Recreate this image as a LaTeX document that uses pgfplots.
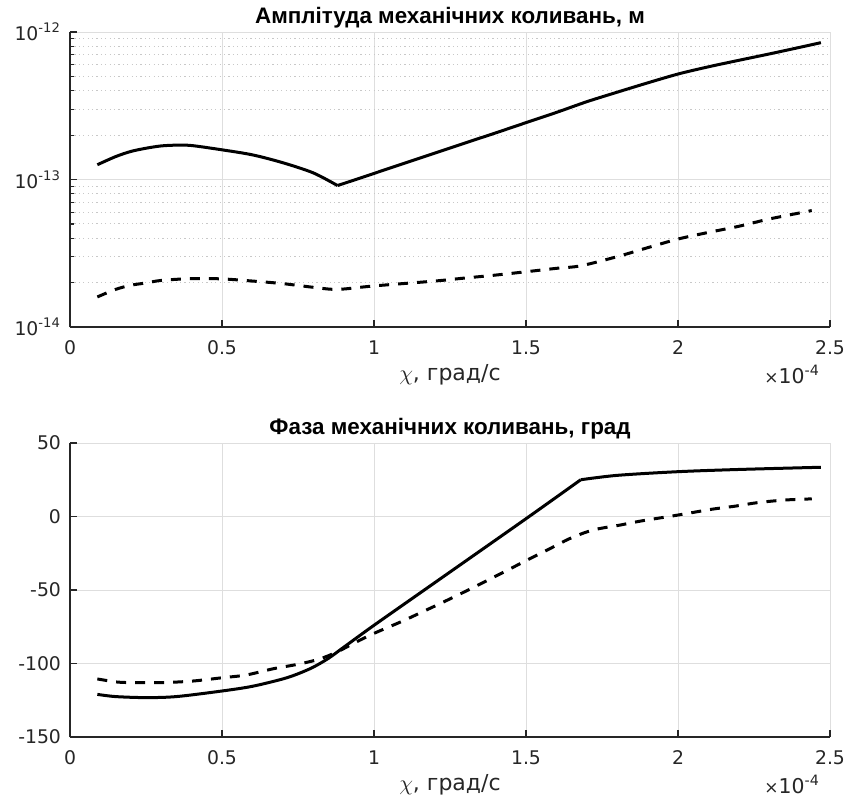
\documentclass[border=0pt]{standalone}
\usepackage{fontspec}
\usepackage{pgfplots}
\pgfplotsset{compat=1.18}
\setmainfont{DejaVu Sans}
\newfontfamily\titlefont{Liberation Sans}
\definecolor{axgray}{RGB}{38,38,38}
\definecolor{gridgray}{RGB}{222,222,222}
\definecolor{mgridgray}{RGB}{200,200,200}

\tikzset{scalelabel/.style={anchor=base east, font=\fontsize{10.2}{11}\selectfont, text=axgray}}

\pgfplotsset{
  matlabstyle/.style={
    scale only axis,
    width=380pt,
    xmin=0, xmax=2.5,
    xtick={0,0.5,1,1.5,2,2.5},
    enlargelimits=false,
    clip=false,
    axis x line*=bottom,
    axis y line*=left,
    axis line style={axgray, line width=0.6pt},
    tick align=inside,
    major tick length=3.5pt,
    minor tick length=2pt,
    tick style={axgray, line width=0.6pt},
    xmajorgrids, ymajorgrids,
    major grid style={gridgray, line width=0.5pt},
    /pgf/number format/assume math mode=true,
    tick label style={font=\fontsize{9.4}{11}\selectfont, text=axgray},
    xticklabel style={yshift=-3.2pt},
    yticklabel style={xshift=-1pt},
    xlabel={$\chi$, град/с},
    xlabel style={at={(axis description cs:0.5,0)}, anchor=base, yshift=-26.5pt,
                  font=\fontsize{11}{12}\selectfont, text=axgray},
    every axis title shift=0pt,
    title style={at={(axis description cs:0.5,1)}, anchor=base, yshift=4.5pt,
                 font=\titlefont\bfseries\fontsize{11.2}{13}\selectfont},
  },
  solidcurve/.style={black, line width=1.5pt, smooth, tension=0.5},
  dashcurve/.style={black, line width=1.5pt, dash pattern=on 5pt off 4.5pt, smooth, tension=0.5},
}

\begin{document}
\begin{tikzpicture}
% amplitude
\begin{axis}[matlabstyle,
    at={(0,0)}, anchor=south west,
    height=147.5pt,
    ymode=log, ymin=1e-14, ymax=1e-12,
    ytick={1e-14,1e-13,1e-12},
    yticklabels={10\textsuperscript{-14},10\textsuperscript{-13},10\textsuperscript{-12}},
    minor ytick={2e-14,3e-14,4e-14,5e-14,6e-14,7e-14,8e-14,9e-14,
                 2e-13,3e-13,4e-13,5e-13,6e-13,7e-13,8e-13,9e-13},
    yminorgrids,
    minor grid style={mgridgray, line width=0.5pt, dash pattern=on 0.6pt off 1.6pt},
    title={Амплітуда механічних коливань, м},
  ]
  \addplot[solidcurve] coordinates {
    (0.09,1.26e-13) (0.15,1.43e-13) (0.2,1.55e-13) (0.25,1.63e-13)
    (0.3,1.69e-13) (0.35,1.71e-13) (0.4,1.70e-13) (0.5,1.59e-13)
    (0.6,1.47e-13) (0.7,1.30e-13) (0.8,1.11e-13) (0.88,9.1e-14)
  };
  \addplot[solidcurve] coordinates {
    (0.88,9.1e-14)
    (1.0,1.10e-13) (1.1,1.29e-13) (1.2,1.51e-13) (1.3,1.77e-13)
    (1.4,2.07e-13) (1.5,2.43e-13) (1.6,2.85e-13) (1.7,3.37e-13)
    (1.8,3.91e-13) (1.9,4.52e-13) (2.0,5.19e-13) (2.1,5.81e-13)
    (2.2,6.43e-13) (2.3,7.10e-13) (2.4,7.87e-13) (2.47,8.47e-13)
  };
  \addplot[dashcurve] coordinates {
    (0.09,1.6e-14) (0.15,1.8e-14) (0.2,1.92e-14) (0.25,1.99e-14)
    (0.3,2.07e-14) (0.4,2.13e-14) (0.5,2.12e-14) (0.6,2.05e-14)
    (0.7,1.97e-14) (0.8,1.86e-14) (0.88,1.80e-14) (1.0,1.9e-14)
    (1.2,2.05e-14) (1.3,2.15e-14) (1.4,2.25e-14) (1.5,2.37e-14)
    (1.6,2.5e-14) (1.68,2.6e-14) (1.8,3.0e-14) (1.9,3.45e-14)
    (2.0,3.95e-14) (2.1,4.38e-14) (2.2,4.82e-14) (2.3,5.4e-14)
    (2.44,6.16e-14)
  };
  \node[scalelabel] at (rel axis cs:1,0) [xshift=-1.5pt, yshift=-28pt]
    {{\fontsize{8.5}{9}\selectfont×}10\textsuperscript{-4}};
\end{axis}
% phase
\begin{axis}[matlabstyle,
    at={(0,-205pt)}, anchor=south west,
    height=147pt,
    ymin=-150, ymax=50,
    ytick={-150,-100,-50,0,50},
    title={Фаза механічних коливань, град},
  ]
  \addplot[solidcurve] coordinates {
    (0.09,-121) (0.15,-122.5) (0.25,-123.2) (0.35,-122.5) (0.5,-118.7)
    (0.6,-115.5) (0.7,-110.5) (0.75,-107) (0.8,-102.5) (0.85,-96.5)
    (0.9,-89) (1.0,-74) (1.2,-45) (1.5,-1.5) (1.68,25)
  };
  \addplot[solidcurve] coordinates {
    (1.68,25) (1.8,28) (2.0,30.5) (2.2,32) (2.47,33.5)
  };
  \addplot[dashcurve] coordinates {
    (0.09,-110.5) (0.15,-112.5) (0.2,-113) (0.3,-113) (0.4,-112)
    (0.5,-109.7) (0.58,-107.8) (0.67,-103.5) (0.75,-100.5) (0.82,-97)
    (0.88,-92) (0.94,-85.5) (1.0,-79.5) (1.09,-71.5) (1.16,-64.8)
    (1.23,-58) (1.3,-51) (1.43,-37.5) (1.5,-30) (1.57,-22.8)
    (1.644,-15) (1.72,-9.2) (1.81,-5.8) (1.88,-3) (2.0,1)
    (2.11,4.9) (2.19,7.1) (2.26,9.4) (2.35,11.2) (2.44,12)
  };
  \node[scalelabel] at (rel axis cs:1,0) [xshift=-1.5pt, yshift=-28pt]
    {{\fontsize{8.5}{9}\selectfont×}10\textsuperscript{-4}};
\end{axis}
\pgfresetboundingbox
\path (-35pt,-236pt) rectangle (388pt,163.5pt);
\end{tikzpicture}
\end{document}
